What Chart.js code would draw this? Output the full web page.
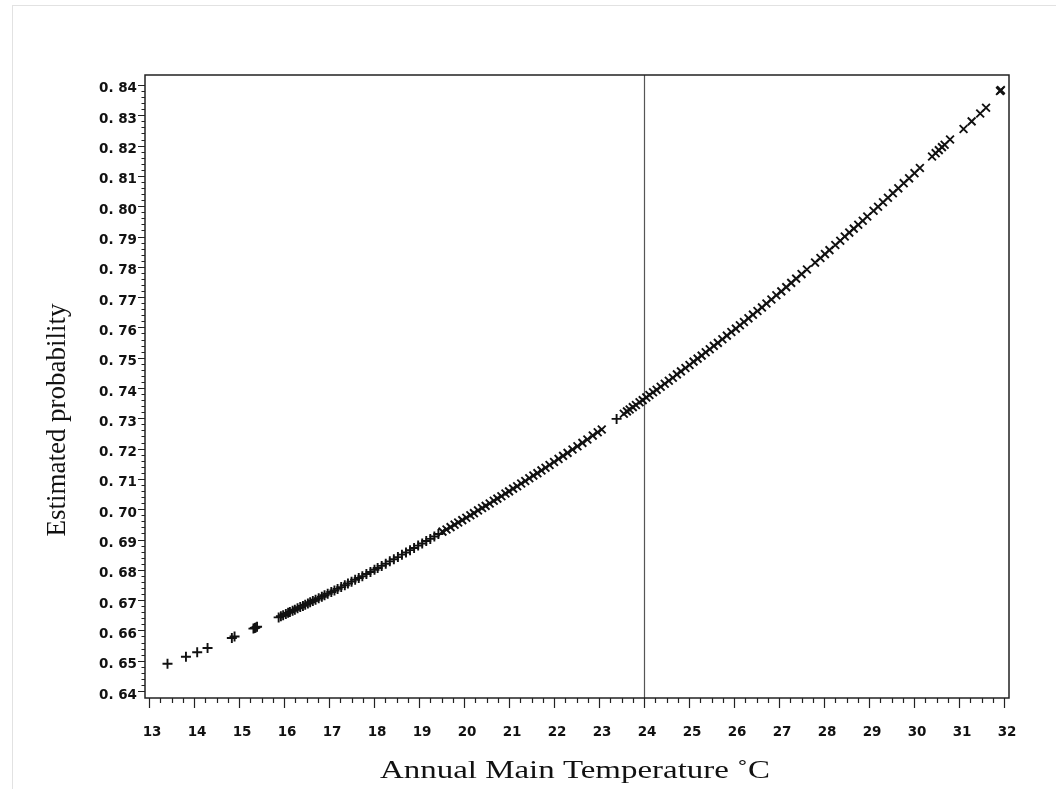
<!DOCTYPE html>
<html>
<head>
<meta charset="utf-8">
<script src="https://cdn.jsdelivr.net/npm/chart.js@4.4.1/dist/chart.umd.min.js"></script>
<style>
html,body{margin:0;padding:0;background:#fff;}
#wrap{position:relative;width:1056px;height:789px;overflow:hidden;}
#frame{position:absolute;left:12px;top:5px;width:1044px;height:784px;border-top:1px solid #e2e2e2;border-left:1px solid #e2e2e2;box-sizing:border-box;}
canvas{position:absolute;left:0;top:0;}
</style>
</head>
<body>
<div id="wrap"><div id="frame"></div><canvas id="c" width="1056" height="789"></canvas></div>
<script>
// ---- data ----
const plusTemp = [13.41,13.82,14.07,14.30,14.84,14.90,15.32,15.35,15.37,15.40,
  15.88,15.93,15.98,16.04,16.09,16.13,16.19,16.24,16.30,16.36,
  16.42,16.47,16.53,16.58,16.64,16.70,16.77,16.84,16.90,16.97,
  17.05,17.12,17.19,17.27,17.35,17.42,17.50,17.58,17.66,17.74,
  17.83,17.92,18.01,18.08,18.17,18.26,18.35,18.44,18.53,18.62,
  18.71,18.80,18.89,18.98,19.07,19.16,19.25,19.34,19.43,23.39];
const plusProb = [0.6490,0.6513,0.6528,0.6542,0.6575,0.6580,0.6606,0.6608,0.6610,0.6612,
  0.6643,0.6647,0.6650,0.6654,0.6658,0.6661,0.6665,0.6668,0.6673,0.6677,
  0.6681,0.6685,0.6689,0.6693,0.6697,0.6701,0.6706,0.6711,0.6716,0.6721,
  0.6727,0.6732,0.6737,0.6743,0.6749,0.6755,0.6761,0.6767,0.6773,0.6779,
  0.6786,0.6793,0.6800,0.6806,0.6813,0.6820,0.6828,0.6835,0.6842,0.6850,
  0.6857,0.6865,0.6872,0.6880,0.6887,0.6895,0.6902,0.6910,0.6918,0.7298];

const crossTemp = [19.52,19.61,19.70,19.79,19.87,19.96,20.05,20.14,20.22,20.31,
  20.40,20.48,20.57,20.66,20.74,20.83,20.92,21.00,21.09,21.18,
  21.27,21.36,21.45,21.54,21.63,21.72,21.81,21.90,22.00,22.10,
  22.20,22.30,22.41,22.52,22.63,22.74,22.86,22.97,23.06,23.55,
  23.62,23.68,23.75,23.82,23.90,23.97,24.05,24.12,24.20,24.28,
  24.37,24.46,24.55,24.64,24.73,24.82,24.92,25.01,25.10,25.19,
  25.28,25.37,25.46,25.55,25.64,25.74,25.84,25.94,26.04,26.13,
  26.22,26.32,26.42,26.52,26.62,26.72,26.83,26.94,27.05,27.16,
  27.27,27.38,27.50,27.62,27.80,27.92,28.02,28.12,28.25,28.36,
  28.46,28.56,28.66,28.76,28.86,28.96,29.10,29.20,29.31,29.42,
  29.53,29.65,29.77,29.89,30.01,30.13,30.40,30.48,30.55,30.62,
  30.68,30.80,31.10,31.28,31.47,31.60,31.91,31.93];
const crossProb = [0.6926,0.6933,0.6941,0.6949,0.6956,0.6964,0.6972,0.6980,0.6987,0.6996,
  0.7004,0.7011,0.7019,0.7028,0.7035,0.7043,0.7052,0.7059,0.7068,0.7076,
  0.7085,0.7093,0.7102,0.7111,0.7119,0.7128,0.7137,0.7146,0.7156,0.7166,
  0.7176,0.7186,0.7197,0.7208,0.7219,0.7230,0.7243,0.7254,0.7263,0.7315,
  0.7323,0.7329,0.7337,0.7344,0.7353,0.7360,0.7369,0.7377,0.7386,0.7394,
  0.7404,0.7414,0.7424,0.7434,0.7445,0.7455,0.7466,0.7476,0.7487,0.7497,
  0.7507,0.7518,0.7528,0.7539,0.7549,0.7561,0.7573,0.7585,0.7596,0.7607,
  0.7618,0.7630,0.7642,0.7654,0.7666,0.7679,0.7692,0.7706,0.7719,0.7733,
  0.7747,0.7761,0.7776,0.7791,0.7814,0.7829,0.7842,0.7855,0.7872,0.7886,
  0.7900,0.7913,0.7926,0.7939,0.7952,0.7966,0.7985,0.7998,0.8013,0.8028,
  0.8043,0.8059,0.8076,0.8092,0.8109,0.8126,0.8164,0.8175,0.8185,0.8195,
  0.8203,0.8220,0.8255,0.8280,0.8306,0.8325,0.8380,0.8383];

const xTicks = [13,14,15,16,17,18,19,20,21,22,23,24,25,26,27,28,29,30,31,32];
const xTickLabels = ['13','14','15','16','17','18','19','20','21','22','23','24','25','26','27','28','29','30','31','32'];
const yTicks = [0.64,0.65,0.66,0.67,0.68,0.69,0.70,0.71,0.72,0.73,0.74,0.75,0.76,0.77,0.78,0.79,0.80,0.81,0.82,0.83,0.84];
const yTickLabels = ['0. 64','0. 65','0. 66','0. 67','0. 68','0. 69','0. 70','0. 71','0. 72','0. 73','0. 74',
  '0. 75','0. 76','0. 77','0. 78','0. 79','0. 80','0. 81','0. 82','0. 83','0. 84'];
const refTemp = [24];
const xTitle = 'Annual Main Temperature \u02DAC';
const yTitle = 'Estimated probability';

// ---- drawing ----
const tickFont = {family:'DejaVu Sans', size:13.5, weight:'bold'};

const decor = {
  id:'decor',
  beforeDatasetsDraw(chart){
    const {ctx, chartArea:a, scales:{x}} = chart;
    ctx.save();
    ctx.strokeStyle = '#555';
    ctx.lineWidth = 1.2;
    refTemp.forEach(t => {
      const px = Math.round(x.getPixelForValue(t)) + 0.5;
      ctx.beginPath(); ctx.moveTo(px, a.top); ctx.lineTo(px, a.bottom); ctx.stroke();
    });
    ctx.restore();
  },
  afterDraw(chart){
    const {ctx, chartArea:a, scales:{x, y}} = chart;
    ctx.save();
    ctx.strokeStyle = '#222';
    ctx.lineWidth = 1.5;
    ctx.strokeRect(a.left, a.top, a.right - a.left, a.bottom - a.top);
    ctx.lineWidth = 1.2;
    ctx.beginPath();
    // y ticks: major every 0.01, 4 minors between
    for (let i = 0; i <= 100; i++) {
      const v = yTicks[0] + i * 0.002;
      const py = Math.round(y.getPixelForValue(v)) + 0.5;
      const len = (i % 5 === 0) ? 7 : 3.5;
      ctx.moveTo(a.left, py); ctx.lineTo(a.left - len, py);
    }
    // x ticks: major every 1, 3 minors between
    for (let i = 0; i <= 76; i++) {
      const v = xTicks[0] + i * 0.25;
      const px = Math.round(x.getPixelForValue(v)) + 0.5;
      const len = (i % 4 === 0) ? 10 : 5;
      ctx.moveTo(px, a.bottom); ctx.lineTo(px, a.bottom + len);
    }
    ctx.stroke();

    // axis titles
    ctx.fillStyle = '#111';
    ctx.textAlign = 'center';
    ctx.textBaseline = 'middle';
    ctx.font = '25px "Liberation Serif"';
    const w = ctx.measureText(xTitle).width;
    ctx.save();
    ctx.translate(575, 771);
    ctx.scale(390 / w, 1);
    ctx.fillText(xTitle, 0, 0);
    ctx.restore();

    ctx.font = '27px "Liberation Serif"';
    ctx.save();
    ctx.translate(58, 420);
    ctx.rotate(-Math.PI / 2);
    ctx.fillText(yTitle, 0, 0);
    ctx.restore();
    ctx.restore();
  }
};

new Chart(document.getElementById('c'), {
  type: 'scatter',
  data: {
    datasets: [
      {
        label: 'plus',
        data: plusTemp.map((t, i) => ({x: t, y: plusProb[i]})),
        pointStyle: 'cross', pointRadius: 5, pointHoverRadius: 5,
        borderColor: '#111', backgroundColor: '#111', pointBorderWidth: 1.9
      },
      {
        label: 'cross',
        data: crossTemp.map((t, i) => ({x: t, y: crossProb[i]})),
        pointStyle: 'crossRot', pointRadius: 5.5, pointHoverRadius: 5.5,
        borderColor: '#111', backgroundColor: '#111', pointBorderWidth: 1.9
      }
    ]
  },
  options: {
    responsive: false,
    animation: false,
    devicePixelRatio: 1,
    layout: {padding: {left: 45, right: 47, top: 75, bottom: 4}},
    plugins: {legend: {display: false}, tooltip: {enabled: false}},
    scales: {
      x: {
        type: 'linear', min: 12.91, max: 32.11,
        afterBuildTicks: s => { s.ticks = xTicks.map(v => ({value: v})); },
        afterFit: s => { s.height = 87; },
        grid: {display: false}, border: {display: false},
        ticks: {padding: 18, labelOffset: 3, font: tickFont, color: '#111',
          autoSkip: false, maxRotation: 0, callback: (v, i) => xTickLabels[i]}
      },
      y: {
        type: 'linear', min: 0.6377, max: 0.8433,
        afterBuildTicks: s => { s.ticks = yTicks.map(v => ({value: v})); },
        afterFit: s => { s.width = 100; },
        grid: {display: false}, border: {display: false},
        ticks: {padding: 0, labelOffset: 4, font: tickFont, color: '#111',
          autoSkip: false, callback: (v, i) => yTickLabels[i]}
      }
    }
  },
  plugins: [decor]
});
</script>
</body>
</html>
